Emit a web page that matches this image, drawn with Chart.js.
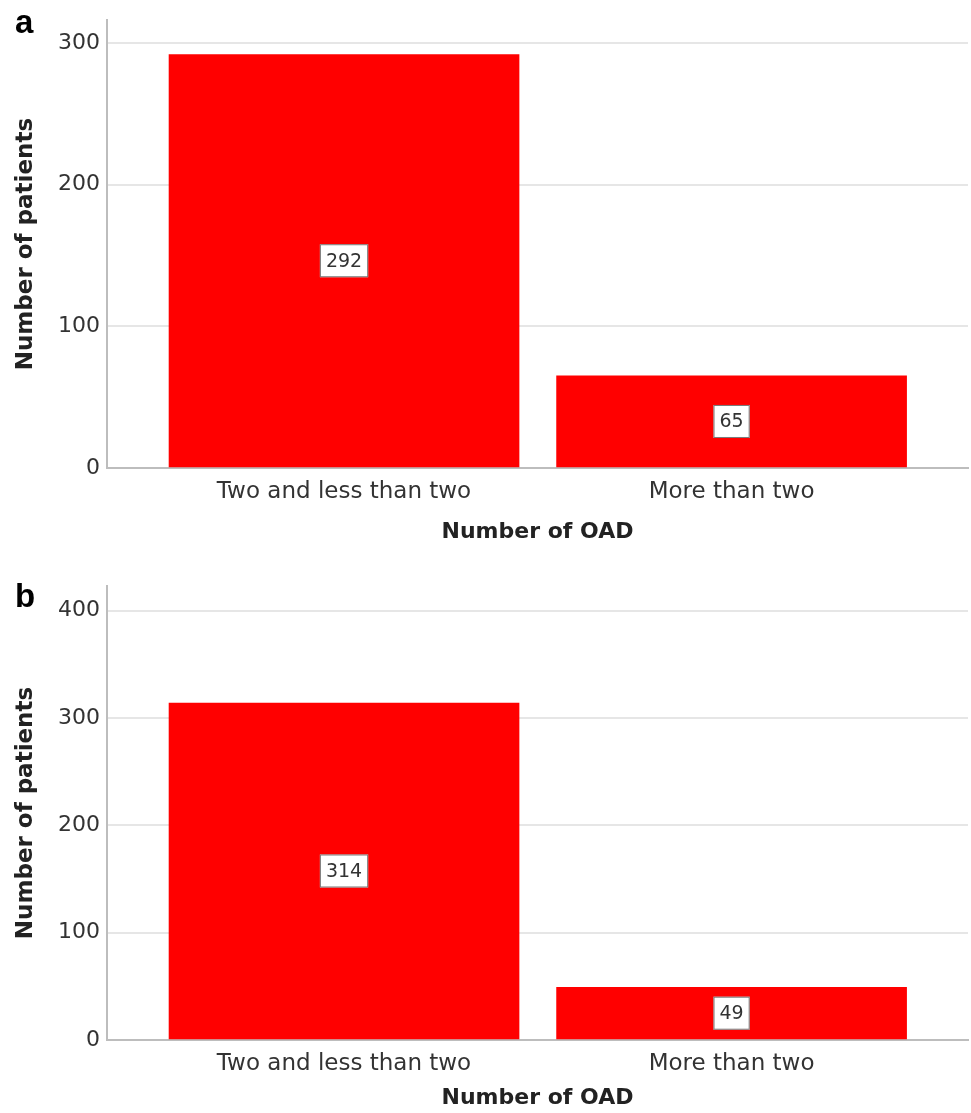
<!DOCTYPE html>
<html>
<head>
<meta charset="utf-8">
<script src="https://cdn.jsdelivr.net/npm/chart.js@4.4.0/dist/chart.umd.min.js"></script>
<style>
  body { margin: 0; background: #fff; }
  .panel { position: absolute; left: 0; width: 971px; }
  .tag { position: absolute; left: 15px; font: bold 33px/1 "Liberation Sans", Arial, sans-serif; color: #000; }
</style>
</head>
<body>
<div class="panel" style="top:0;height:556px"><canvas id="chartA" width="971" height="556"></canvas></div>
<div class="tag" style="top:5px">a</div>
<div class="panel" style="top:556px;height:557px"><canvas id="chartB" width="971" height="557"></canvas></div>
<div class="tag" style="top:579px">b</div>
<script>
// categories and values
const categories = ['Two and less than two', 'More than two'];
const valuesA = [292, 65];
const valuesB = [314, 49];
const yTicksA = [0, 100, 200, 300];
const yTicksB = [0, 100, 200, 300, 400];

const FONT = '"DejaVu Sans", Verdana, sans-serif';
const TEXT = '#333';

// boxed value label in the middle of each bar
const valueBoxes = {
    id: 'valueBoxes',
    afterDatasetsDraw(chart) {
        const ctx = chart.ctx;
        const meta = chart.getDatasetMeta(0);
        const vals = chart.data.datasets[0].data;
        ctx.save();
        ctx.font = '19px ' + FONT;
        ctx.textAlign = 'center';
        ctx.textBaseline = 'middle';
        meta.data.forEach(function(bar, i) {
            const txt = String(vals[i].y);
            const cx = bar.x;
            const cy = (bar.y + bar.base) / 2;
            const w = ctx.measureText(txt).width + 12;
            const h = 33;
            ctx.fillStyle = '#fff';
            ctx.fillRect(cx - w / 2, cy - h / 2, w, h);
            ctx.strokeStyle = '#777';
            ctx.lineWidth = 1;
            ctx.strokeRect(cx - w / 2 + 0.5, cy - h / 2 + 0.5, w - 1, h - 1);
            ctx.fillStyle = TEXT;
            ctx.fillText(txt, cx, cy + 1);
        });
        ctx.restore();
    }
};

function makeChart(id, values, yTicks, yMax, padTop, xHeight, titleBottom) {
    const ctx = document.getElementById(id).getContext('2d');
    return new Chart(ctx, {
        type: 'bar',
        data: {
            datasets: [{
                data: values.map((v, i) => ({ x: i, y: v })),
                backgroundColor: '#ff0000',
                borderWidth: 0,
                barThickness: 350
            }]
        },
        plugins: [valueBoxes],
        options: {
            responsive: false,
            animation: false,
            layout: { padding: { top: padTop, right: 3, left: 0, bottom: 0 } },
            plugins: { legend: { display: false }, tooltip: { enabled: false } },
            scales: {
                x: {
                    type: 'linear',
                    offset: false,
                    min: -0.6116,
                    max: 1.61,
                    afterBuildTicks: s => { s.ticks = categories.map((c, i) => ({ value: i })); },
                    afterFit: s => { s.height = xHeight; },
                    grid: { display: false, drawTicks: false },
                    border: { color: '#bdbdbd', width: 2 },
                    ticks: {
                        autoSkip: false,
                        maxRotation: 0,
                        padding: 10,
                        color: TEXT,
                        font: { family: FONT, size: 23 },
                        callback: v => categories[v]
                    },
                    title: {
                        display: true,
                        text: 'Number of OAD',
                        color: '#222',
                        font: { family: FONT, size: 22, weight: 'bold' },
                        padding: { top: 0, bottom: titleBottom }
                    }
                },
                y: {
                    min: 0,
                    max: yMax,
                    afterBuildTicks: s => { s.ticks = yTicks.map(v => ({ value: v })); },
                    afterFit: s => { s.width = 107; },
                    grid: { color: '#e6e6e6', lineWidth: 2, drawTicks: false },
                    border: { color: '#bdbdbd', width: 2 },
                    ticks: {
                        padding: 7,
                        color: TEXT,
                        font: { family: FONT, size: 22 }
                    },
                    title: {
                        display: true,
                        text: 'Number of patients',
                        color: '#222',
                        font: { family: FONT, size: 23, weight: 'bold' },
                        padding: { top: 12, bottom: 0 }
                    }
                }
            }
        }
    });
}

makeChart('chartA', valuesA, yTicksA, 316.2, 20, 88, 11);
makeChart('chartB', valuesB, yTicksB, 423, 30, 73, 2);
</script>
</body>
</html>
